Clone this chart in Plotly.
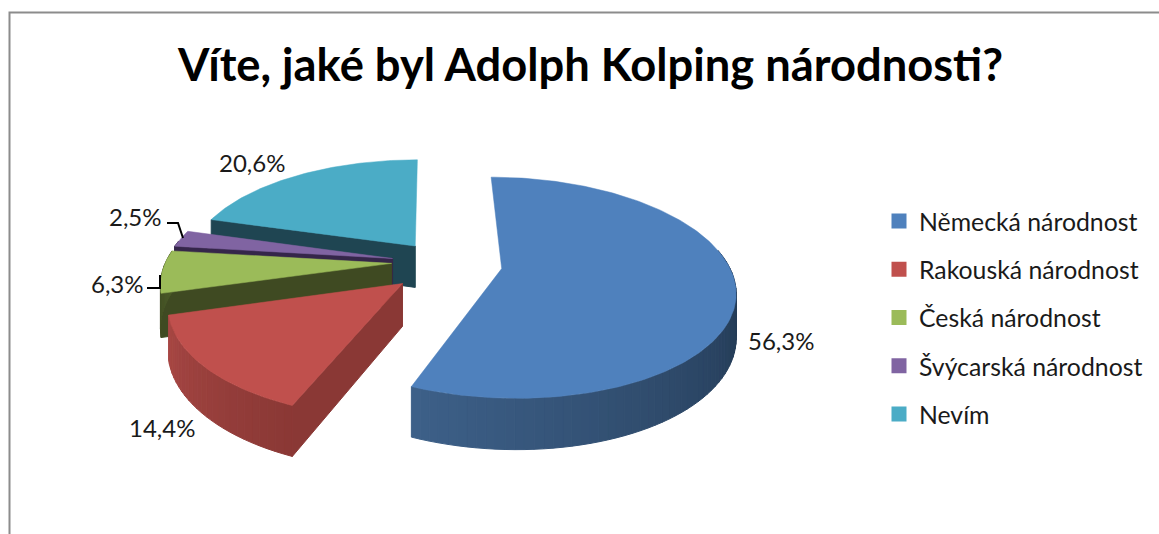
import math
import plotly.graph_objects as go

categories = ["Německá národnost", "Rakouská národnost", "Česká národnost", "Švýcarská národnost", "Nevím"]
values = [56.3, 14.4, 6.3, 2.5, 20.6]
value_labels = ["56,3%", "14,4%", "6,3%", "2,5%", "20,6%"]

pulls = [0.32, 0.16, 0.17, 0.17, 0.11]
nudges = [0, 10, 0, 0, -7]
top_colors = ["#4F81BD", "#C0504D", "#9BBB59", "#8064A2", "#4BACC6"]
edge_colors = ["#3D6089", "#8A3835", "#3F4A22", "#35264A", "#1F4552"]
arc_far = ["#1E3249", "#8A3835", "#3F4A22", "#35264A", "#1F4552"]
arc_near = ["#3D6089", "#A84744", "#4A5A28", "#35264A", "#1F4552"]

W, H = 1159, 534
CX, CY, RX, RY, K, DEPTH = 430, 262, 226, 105, 0.171, 42


def project(u, v, drop=0.0):
    s = 1 / (1 + K * v)
    return CX + RX * u * s, CY - RY * v * s + drop * s


def rgb(c):
    return [int(c[i:i + 2], 16) for i in (1, 3, 5)]


def mix(a, b, t):
    return "rgb(%d,%d,%d)" % tuple(round(x + (y - x) * t) for x, y in zip(rgb(a), rgb(b)))


total = sum(values)
bounds = [0.0]
for val in values:
    bounds.append(bounds[-1] + 360 * val / total)

fig = go.Figure()


def poly(points, color, name=None, width=1):
    fig.add_trace(go.Scatter(
        x=[p[0] for p in points] + [points[0][0]],
        y=[p[1] for p in points] + [points[0][1]],
        mode="lines", fill="toself", fillcolor=color,
        line=dict(color=color, width=width),
        hoverinfo="text" if name else "skip", text=name, showlegend=False,
    ))


def disc(i, theta):
    a0, a1 = bounds[i], bounds[i + 1]
    mid = math.radians((a0 + a1) / 2)
    t = math.radians(theta)
    return pulls[i] * math.sin(mid) + math.sin(t), pulls[i] * math.cos(mid) + math.cos(t)


def apex(i):
    mid = math.radians((bounds[i] + bounds[i + 1]) / 2)
    return pulls[i] * math.sin(mid), pulls[i] * math.cos(mid)


# back-to-front so nearer slices cover further ones
for i in [4, 3, 2, 1, 0]:
    a0, a1 = bounds[i], bounds[i + 1]
    au, av = apex(i)
    top = nudges[i]
    low = nudges[i] + DEPTH
    # radial wall on the start edge of the slice, when it faces the viewer
    if a0 > 0:
        u, v = disc(i, a0)
        poly([project(au, av, top), project(u, v, top), project(u, v, low), project(au, av, low)], edge_colors[i])
    # outer wall, in shaded strips
    lo, hi = max(a0, 80), min(a1, 280)
    steps = max(1, int((hi - lo) / 2)) if hi > lo else 0
    for n in range(steps):
        b0 = lo + (hi - lo) * n / steps
        b1 = lo + (hi - lo) * (n + 1) / steps
        quad = []
        for a, d in [(b0, top), (b1, top), (b1, low), (b0, low)]:
            u, v = disc(i, a)
            quad.append(project(u, v, d))
        poly(quad, mix(arc_far[i], arc_near[i], (n + 0.5) / steps))
    # top face
    pts = [project(au, av, top)]
    count = int(a1 - a0) + 2
    for n in range(count + 1):
        u, v = disc(i, a0 + (a1 - a0) * n / count)
        pts.append(project(u, v, top))
    poly(pts, top_colors[i], f"{categories[i]}: {value_labels[i]}", width=0.5)

# legend keys
for name, color in zip(categories, top_colors):
    fig.add_trace(go.Scatter(
        x=[None], y=[None], mode="markers", name=name, legendgroup=name,
        marker=dict(symbol="square", size=15, color=color),
    ))

annotations = []
for text, x, y in zip(value_labels, [781, 162, 117, 135, 252], [340, 427, 283, 216, 162]):
    annotations.append(dict(
        text=text, x=x, y=y, xref="x", yref="y", showarrow=False,
        font=dict(family="Lato", size=24, color="#1a1a1a"),
    ))

fig.update_layout(
    width=W, height=H, autosize=False,
    margin=dict(l=0, r=0, t=0, b=0),
    paper_bgcolor="white", plot_bgcolor="white",
    xaxis=dict(range=[0, W], visible=False, domain=[0, 1]),
    yaxis=dict(range=[H, 0], visible=False, domain=[0, 1]),
    title=dict(
        text="<b>Víte, jaké byl Adolph Kolping národnosti?</b>",
        font=dict(family="Lato", size=45.3, color="black"),
        x=590.5 / W, xanchor="center", y=1 - 65 / H, yanchor="middle",
    ),
    legend=dict(
        x=879 / W, y=1 - 318 / H, xanchor="left", yanchor="middle",
        font=dict(family="Lato", size=24.8, color="#1a1a1a"),
        tracegroupgap=13, bgcolor="rgba(0,0,0,0)",
    ),
    annotations=annotations,
    shapes=[
        dict(type="path", xref="x", yref="y", path=f"M 9.5 {H} L 9.5 12.5 L {W} 12.5",
             line=dict(color="#8c8c8c", width=2)),
        dict(type="path", xref="x", yref="y", path="M 167 223 L 178 223 L 183 238",
             line=dict(color="black", width=2)),
        dict(type="path", xref="x", yref="y", path="M 147 288 L 160 288 L 160 275",
             line=dict(color="black", width=2)),
    ],
)
fig.write_html(
    "out.html",
    config={"displayModeBar": False},
    post_script="document.body.style.margin='0';document.body.style.overflow='hidden';",
)
